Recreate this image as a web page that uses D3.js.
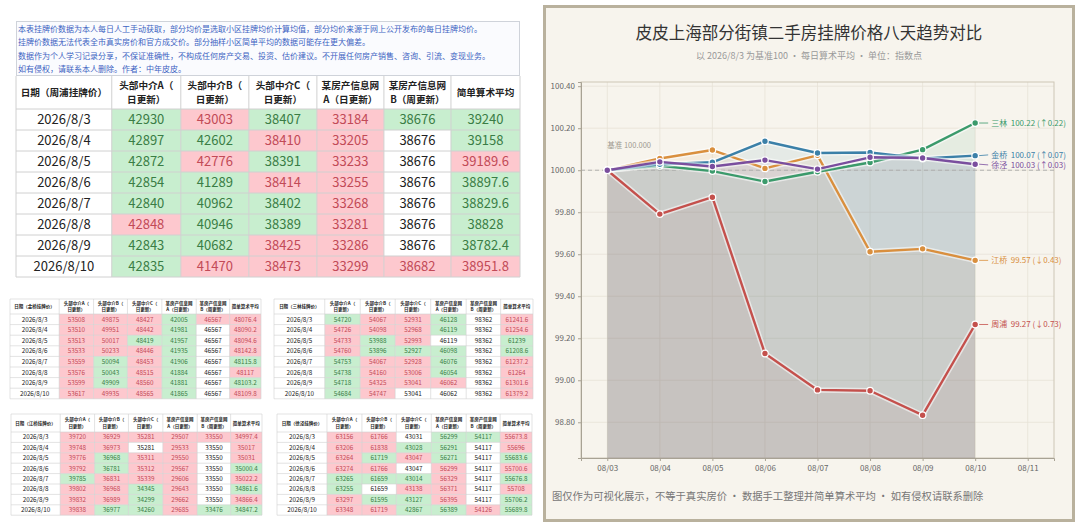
<!DOCTYPE html>
<html><head><meta charset="utf-8">
<script src="https://cdn.jsdelivr.net/npm/d3@7"></script>
<style>
body{margin:0;background:#fff;}
svg{display:block;font-family:"Noto Sans CJK SC","Noto Sans",sans-serif;}
</style>
</head><body>
<svg id="c" width="1080" height="528"></svg>
<script>
// ---------------- DATA ----------------
const introLines = [
  "本表挂牌价数据为本人每日人工手动获取，部分均价是选取小区挂牌均价计算均值，部分均价来源于网上公开发布的每日挂牌均价。",
  "挂牌价数据无法代表全市真实房价和官方成交价。部分抽样小区简单平均的数据可能存在更大偏差。",
  "数据作为个人学习记录分享，不保证准确性，不构成任何房产交易、投资、估价建议。不开展任何房产销售、咨询、引流、变现业务。",
  "如有侵权，请联系本人删除。作者：中年皮皮。"
];
const dates = ["2026/8/3","2026/8/4","2026/8/5","2026/8/6","2026/8/7","2026/8/8","2026/8/9","2026/8/10"];
const colHeaders = [["头部中介A（","日更新）"],["头部中介B（","日更新）"],["头部中介C（","日更新）"],["某房产信息网","A（日更新）"],["某房产信息网","B（周更新）"],["简单算术平均"]];

const zhoupuRows = [
  [42930,43003,38407,33184,38676,39240],
  [42897,42602,38410,33205,38676,39158],
  [42872,42776,38391,33233,38676,39189.6],
  [42854,41289,38414,33255,38676,38897.6],
  [42840,40962,38402,33268,38676,38829.6],
  [42848,40946,38389,33281,38676,38828],
  [42843,40682,38425,33286,38676,38782.4],
  [42835,41470,38473,33299,38682,38951.8]];
const zhoupuFirst = [-1,1,-1,1,-1,-1];

const jinqiaoRows = [
  [53508,49875,48427,42005,46567,48076.4],
  [53510,49951,48442,41981,46567,48090.2],
  [53513,50017,48419,41957,46567,48094.6],
  [53533,50233,48446,41935,46567,48142.8],
  [53559,50094,48453,41906,46567,48115.8],
  [53576,50043,48515,41884,46567,48117],
  [53599,49909,48560,41881,46567,48103.2],
  [53617,49935,48565,41865,46567,48109.8]];
const jinqiaoFirst = [1,1,1,-1,1,1];

const sanlinRows = [
  [54720,54067,52931,46128,98362,61241.6],
  [54726,54098,52968,46119,98362,61254.6],
  [54733,53988,52993,46119,98362,61239],
  [54760,53896,52927,46098,98362,61208.6],
  [54753,54067,52928,46076,98362,61237.2],
  [54738,54160,53006,46054,98362,61264],
  [54718,54325,53041,46062,98362,61301.6],
  [54684,54747,53041,46062,98362,61379.2]];
const sanlinFirst = [-1,1,1,-1,0,1];

const jiangqiaoRows = [
  [39720,36929,35281,29507,33550,34997.4],
  [39748,36973,35281,29533,33550,35017],
  [39776,36968,35311,29550,33550,35031],
  [39792,36781,35312,29567,33550,35000.4],
  [39785,36831,35339,29606,33550,35022.2],
  [39802,36968,34345,29643,33550,34861.6],
  [39832,36989,34299,29662,33550,34866.4],
  [39838,36977,34260,29685,33476,34847.2]];
const jiangqiaoFirst = [1,1,1,1,1,1];

const xujingRows = [
  [63156,61766,43031,56299,54117,55673.8],
  [63206,61838,43028,56291,54117,55696],
  [63264,61719,43047,56271,54117,55683.6],
  [63274,61766,43047,56299,54117,55700.6],
  [63265,61659,43014,56329,54117,55676.8],
  [63255,61659,43138,56371,54117,55708],
  [63297,61595,43127,56395,54117,55706.2],
  [63348,61719,42867,56389,54126,55689.8]];
const xujingFirst = [1,1,0,-1,-1,1];

const chartDates = ["08/03","08/04","08/05","08/06","08/07","08/08","08/09","08/10","08/11"];
const seriesNames = ["周浦","江桥","三林","金桥","徐泾"];
const seriesAvg = [zhoupuRows, jiangqiaoRows, sanlinRows, jinqiaoRows, xujingRows].map(t => t.map(r => r[5]));
const seriesColors = ["#c4504c","#d98f3e","#3b9a6b","#3b80a8","#7a4e9e"];
const yTicks = [98.8,99.0,99.2,99.4,99.6,99.8,100.0,100.2,100.4];

const chartTitle = "皮皮上海部分街镇二手房挂牌价格八天趋势对比";
const chartSubtitle = "以 2026/8/3 为基准100 · 每日算术平均 · 单位：指数点";
const chartFoot = "图仅作为可视化展示，不等于真实房价 · 数据手工整理并简单算术平均 · 如有侵权请联系删除";

// ---------------- DRAW ----------------
const svg = d3.select("#c");
const C = {gFill:"#c8eecf", gText:"#3a7d45", rFill:"#fdc8ce", rText:"#c24a57", text:"#222", line:"#d0d0d0"};

// intro box
const ib = svg.append("g");
ib.append("rect").attr("x",16.5).attr("y",21.5).attr("width",503).attr("height",54)
  .attr("fill","#fafbfe").attr("stroke","#cfd3da");
ib.selectAll("text").data(introLines).join("text")
  .attr("x",18).attr("y",(d,i)=>32+i*13.4)
  .attr("font-size",8).attr("fill","#3d63c2").text(d=>d);

function drawTable(o){
  const g = svg.append("g");
  const props = o.props;
  const xs = [o.x]; props.forEach(p => xs.push(xs[xs.length-1] + p*o.w));
  const yRow = i => o.y + o.headerH + i*o.rowH;
  const bottom = yRow(o.rows.length);
  o.rows.forEach((row,i)=>{
    g.append("text").attr("x",(xs[0]+xs[1])/2).attr("y",yRow(i)+o.rowH/2)
      .attr("dy","0.36em").attr("text-anchor","middle").attr("font-size",o.fs)
      .attr("fill",C.text).text(dates[i]);
    row.forEach((v,j)=>{
      let t;
      if(i===0) t = o.first[j];
      else t = v>o.rows[i-1][j] ? 1 : (v<o.rows[i-1][j] ? -1 : 0);
      const fill = t>0 ? C.rFill : (t<0 ? C.gFill : "#fff");
      const tc = t>0 ? C.rText : (t<0 ? C.gText : C.text);
      g.append("rect").attr("x",xs[j+1]).attr("y",yRow(i)).attr("width",xs[j+2]-xs[j+1]).attr("height",o.rowH).attr("fill",fill);
      g.append("text").attr("x",(xs[j+1]+xs[j+2])/2).attr("y",yRow(i)+o.rowH/2)
        .attr("dy","0.36em").attr("text-anchor","middle").attr("font-size",o.fs)
        .attr("fill",tc).text(String(v));
    });
  });
  g.append("text").attr("x",(xs[0]+xs[1])/2).attr("y",o.y+o.headerH/2).attr("dy","0.36em")
    .attr("text-anchor","middle").attr("font-size",o.hfs).attr("font-weight","bold").attr("fill",C.text)
    .text("日期（"+o.name+"挂牌价）");
  colHeaders.forEach((h,j)=>{
    const cx=(xs[j+1]+xs[j+2])/2;
    h.forEach((line,k)=>{
      const off = (k-(h.length-1)/2)*o.hfs*1.4;
      g.append("text").attr("x",cx).attr("y",o.y+o.headerH/2+off).attr("dy","0.36em")
        .attr("text-anchor","middle").attr("font-size",o.hfs).attr("font-weight","bold").attr("fill",C.text).text(line);
    });
  });
  xs.forEach(x=>g.append("line").attr("x1",x).attr("x2",x).attr("y1",o.y).attr("y2",bottom).attr("stroke",C.line).attr("stroke-width",o.lw));
  for(let i=0;i<=o.rows.length;i++){
    g.append("line").attr("x1",xs[0]).attr("x2",xs[xs.length-1]).attr("y1",yRow(i)).attr("y2",yRow(i)).attr("stroke",C.line).attr("stroke-width",o.lw);
  }
  if(o.topLine) g.append("line").attr("x1",xs[0]).attr("x2",xs[xs.length-1]).attr("y1",o.y).attr("y2",o.y).attr("stroke",C.line).attr("stroke-width",o.lw);
}

const mainProps=[0.19,0.137,0.135,0.135,0.133,0.133,0.137];
const smallProps=[0.196,0.137,0.135,0.137,0.137,0.133,0.125];
drawTable({name:"周浦",rows:zhoupuRows,first:zhoupuFirst,x:16,y:76,w:504,headerH:33,rowH:21,props:mainProps,fs:13,hfs:9.6,lw:1,topLine:false});
drawTable({name:"金桥",rows:jinqiaoRows,first:jinqiaoFirst,x:10,y:299,w:251,headerH:15,rowH:10.6,props:smallProps,fs:6.3,hfs:4.5,lw:0.6,topLine:true});
drawTable({name:"三林",rows:sanlinRows,first:sanlinFirst,x:274,y:299,w:259,headerH:15,rowH:10.6,props:smallProps,fs:6.3,hfs:4.5,lw:0.6,topLine:true});
drawTable({name:"江桥",rows:jiangqiaoRows,first:jiangqiaoFirst,x:11,y:414,w:251,headerH:18,rowH:10.4,props:smallProps,fs:6.3,hfs:4.5,lw:0.6,topLine:true});
drawTable({name:"徐泾",rows:xujingRows,first:xujingFirst,x:277,y:414,w:255,headerH:18,rowH:10.4,props:smallProps,fs:6.3,hfs:4.5,lw:0.6,topLine:true});

// ---------------- CHART ----------------
const card = svg.append("g");
card.append("rect").attr("x",544.5).attr("y",6.5).attr("width",529).attr("height",514)
  .attr("fill","#f7f4ed").attr("stroke","#b9b19d").attr("stroke-width",3);
card.append("text").attr("x",809).attr("y",39).attr("text-anchor","middle").attr("font-size",16.5)
  .attr("fill","#333").text(chartTitle);
card.append("text").attr("x",809).attr("y",59).attr("text-anchor","middle").attr("font-size",9)
  .attr("fill","#999").text(chartSubtitle);
card.append("text").attr("x",552).attr("y",500).attr("font-size",10.3).attr("fill","#777").text(chartFoot);

const L=581,R=1054,T=82,B=458;
const x = d3.scalePoint().domain(chartDates).range([L,R]).padding(0.5);
const y = d3.scaleLinear().domain([98.63,100.42]).range([B,T]);
const plot = svg.append("g");
plot.selectAll(".hg").data(yTicks).join("line").attr("x1",L).attr("x2",R)
  .attr("y1",d=>y(d)).attr("y2",d=>y(d)).attr("stroke","#e7e2d7").attr("stroke-width",0.8);
plot.selectAll(".vg").data(chartDates).join("line").attr("y1",T).attr("y2",B)
  .attr("x1",d=>x(d)).attr("x2",d=>x(d)).attr("stroke","#e7e2d7").attr("stroke-width",0.8);
plot.append("rect").attr("x",L).attr("y",T).attr("width",R-L).attr("height",B-T)
  .attr("fill","none").attr("stroke","#cdc6b6");

const series = seriesNames.map((n,i)=>({name:n,color:seriesColors[i],
  vals: seriesAvg[i].map((v,k)=>({d:chartDates[k], v:v/seriesAvg[i][0]*100}))}));

const area = d3.area().x(p=>x(p.d)).y0(B).y1(p=>y(p.v));
const line = d3.line().x(p=>x(p.d)).y(p=>y(p.v));
series.forEach(s=>{
  plot.append("path").attr("d",area(s.vals)).attr("fill",s.color).attr("fill-opacity",0.09);
});
plot.append("line").attr("x1",L).attr("x2",R).attr("y1",y(100)).attr("y2",y(100))
  .attr("stroke","#aaa").attr("stroke-dasharray","4,3").attr("stroke-width",0.9);
plot.append("text").attr("x",x("08/03")).attr("y",y(100)-22).attr("font-size",7.5).attr("fill","#a09a90").text("基准 100.000");

series.forEach(s=>{
  plot.append("path").attr("d",line(s.vals)).attr("fill","none").attr("stroke","#fff").attr("stroke-opacity",0.55).attr("stroke-width",5.5).attr("stroke-linejoin","round");
  plot.append("path").attr("d",line(s.vals)).attr("fill","none").attr("stroke",s.color).attr("stroke-width",2.4).attr("stroke-linejoin","round");
});

// end labels with simple vertical spacing
const ends = series.map(s=>{const last=s.vals[s.vals.length-1]; return {s, last, px:x(last.d), py:y(last.v), ly:y(last.v)};})
  .sort((a,b)=>a.py-b.py);
const gap = 10;
for(let i=1;i<ends.length;i++){
  if(ends[i].ly-ends[i-1].ly<gap){
    const need = gap-(ends[i].ly-ends[i-1].ly);
    ends[i-1].ly -= need/2; ends[i].ly += need/2;
  }
}
series.forEach(s=>{
  plot.selectAll(null).data(s.vals).join("circle").attr("cx",p=>x(p.d)).attr("cy",p=>y(p.v))
    .attr("r",3.3).attr("fill",s.color).attr("stroke","#fff").attr("stroke-width",1.2);
});
ends.forEach(e=>{
  const s=e.s, delta=e.last.v-100;
  plot.append("line").attr("x1",e.px+4).attr("x2",e.px+13).attr("y1",e.py).attr("y2",e.ly).attr("stroke",s.color).attr("stroke-width",0.8);
  plot.append("text").attr("x",e.px+16).attr("y",e.ly).attr("dy","0.35em").attr("font-size",8).attr("fill",s.color)
    .attr("xml:space","preserve")
    .text(s.name+"  "+e.last.v.toFixed(2)+" ("+(delta>=0?"↑":"↓")+Math.abs(delta).toFixed(2)+")");
});

const ya = plot.append("g").attr("transform",`translate(${L},0)`)
  .call(d3.axisLeft(y).tickValues(yTicks).tickFormat(d3.format(".2f")).tickSize(3).tickPadding(3));
const xa = plot.append("g").attr("transform",`translate(0,${B})`)
  .call(d3.axisBottom(x).tickSize(3).tickPadding(4));
[ya,xa].forEach(a=>{
  a.select(".domain").attr("stroke","#a8a294");
  a.selectAll(".tick line").attr("stroke","#a8a294");
  a.selectAll(".tick text").attr("font-size",8).attr("fill","#666").attr("font-family",'"Noto Sans CJK SC","Noto Sans",sans-serif');
});
</script>
</body></html>
